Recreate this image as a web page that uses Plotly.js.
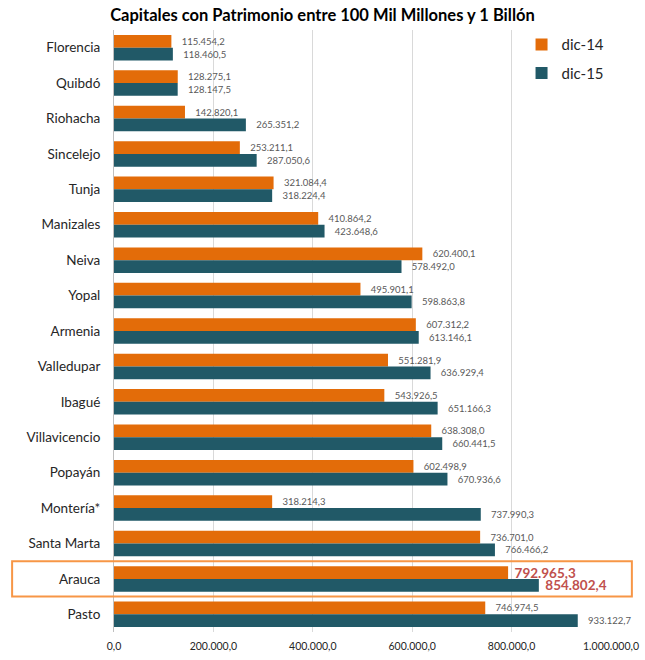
<!DOCTYPE html>
<html><head><meta charset="utf-8">
<script src="https://cdn.plot.ly/plotly-3.0.1.min.js"></script>
<style>body{margin:0;background:#fff}#c{width:645px;height:660px}</style>
</head><body><div id="c"></div>
<script>
const cities = ["Florencia","Quibdó","Riohacha","Sincelejo","Tunja","Manizales","Neiva","Yopal","Armenia","Valledupar","Ibagué","Villavicencio","Popayán","Montería*","Santa Marta","Arauca","Pasto"];
const dic14 = [115454.2,128275.1,142820.1,253211.1,321084.4,410864.2,620400.1,495901.1,607312.2,551281.9,543926.5,638308.0,602498.9,318214.3,736701.0,792965.3,746974.5];
const dic15 = [118460.5,128147.5,265351.2,287050.6,318224.4,423648.6,578492.0,598863.8,613146.1,636929.4,651166.3,660441.5,670936.6,737990.3,766466.2,854802.4,933122.7];
const highlight = "Arauca";
const xTicks = [0,200000,400000,600000,800000,1000000];

function labels(arr){
  return cities.map((c,i)=>{
    const s = arr[i].toFixed(1).replace('.',',').replace(/\B(?=(\d{3})+(?!\d))/g,'.');
    return c===highlight ? '\u00a0<b>'+s+'</b>' : '\u00a0\u00a0\u00a0'+s;
  });
}
function sizes(){ return cities.map(c=>c===highlight?13.5:9.5); }
function colors(){ return cities.map(c=>c===highlight?'#C0504D':'#595959'); }

const t1 = {type:'bar',orientation:'h',name:'dic-14',y:cities,x:dic14,
  marker:{color:'#E36C09'},text:labels(dic14),textposition:'outside',constraintext:'none',
  textfont:{size:sizes(),color:colors(),family:'Lato'},cliponaxis:false,legendgroup:'a'};
const t2 = {type:'bar',orientation:'h',name:'dic-15',y:cities,x:dic15,
  marker:{color:'#215967'},text:labels(dic15),textposition:'outside',constraintext:'none',
  textfont:{size:sizes(),color:colors(),family:'Lato'},cliponaxis:false,legendgroup:'b'};

const hi = cities.indexOf(highlight);
const layout = {
  width:645,height:660,
  margin:{l:114,r:34,t:30,b:28},
  separators:',.',
  font:{family:'Lato',color:'#262626'},
  title:{text:'<b>Capitales con Patrimonio entre 100 Mil Millones y 1 Billón</b>',x:0.5,xanchor:'center',y:0.986,yanchor:'top',font:{size:16.5,color:'#000'}},
  barmode:'group',bargap:0.28,bargroupgap:0,
  xaxis:{range:[0,1000000],tickvals:xTicks,tickformat:',.1f',showgrid:true,gridcolor:'#D9D9D9',zeroline:false,
    tickfont:{size:10.5,color:'#262626'},fixedrange:true,showline:false,ticklabelstandoff:6},
  yaxis:{autorange:'reversed',tickfont:{size:13.5,color:'#262626'},showline:true,linecolor:'#BFBFBF',ticks:'',ticklen:0,
    automargin:false,ticklabelstandoff:10},
  legend:{x:0.82,y:1.003,xanchor:'left',yanchor:'top',font:{size:15,color:'#262626'},traceorder:'grouped',tracegroupgap:6,bgcolor:'rgba(0,0,0,0)'},
  shapes:[{type:'rect',xref:'paper',yref:'y',x0:-0.205,x1:1.042,y0:hi-0.5,y1:hi+0.5,line:{color:'#F79646',width:2},fillcolor:'rgba(0,0,0,0)'}],
  plot_bgcolor:'#fff',paper_bgcolor:'#fff'
};
Plotly.newPlot('c',[t1,t2],layout,{displayModeBar:false,staticPlot:true});
</script></body></html>
